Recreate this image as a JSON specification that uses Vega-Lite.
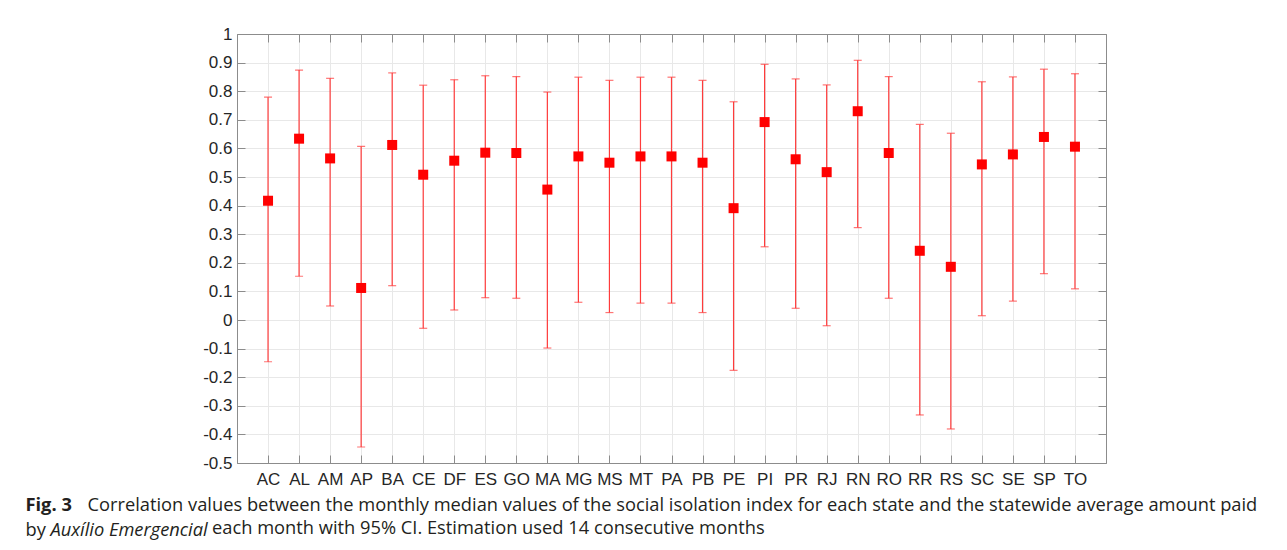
{
  "$schema": "https://vega.github.io/schema/vega-lite/v6.json",
  "autosize": {"type": "none"},
  "width": 869,
  "height": 429,
  "padding": {"left": 237, "top": 34, "right": 181, "bottom": 87},
  "background": "white",
  "data": {
    "values": [
      {"state": "AC", "r": 0.417, "lo": -0.146, "hi": 0.779},
      {"state": "AL", "r": 0.634, "lo": 0.153, "hi": 0.874},
      {"state": "AM", "r": 0.565, "lo": 0.049, "hi": 0.845},
      {"state": "AP", "r": 0.112, "lo": -0.444, "hi": 0.607},
      {"state": "BA", "r": 0.612, "lo": 0.12, "hi": 0.864},
      {"state": "CE", "r": 0.508, "lo": -0.029, "hi": 0.821},
      {"state": "DF", "r": 0.557, "lo": 0.035, "hi": 0.84},
      {"state": "ES", "r": 0.585, "lo": 0.078, "hi": 0.854},
      {"state": "GO", "r": 0.584, "lo": 0.076, "hi": 0.851},
      {"state": "MA", "r": 0.456, "lo": -0.098, "hi": 0.797},
      {"state": "MG", "r": 0.572, "lo": 0.062, "hi": 0.849},
      {"state": "MS", "r": 0.55, "lo": 0.026, "hi": 0.838},
      {"state": "MT", "r": 0.572, "lo": 0.059, "hi": 0.849},
      {"state": "PA", "r": 0.572, "lo": 0.059, "hi": 0.849},
      {"state": "PB", "r": 0.55, "lo": 0.026, "hi": 0.838},
      {"state": "PE", "r": 0.391, "lo": -0.176, "hi": 0.763},
      {"state": "PI", "r": 0.692, "lo": 0.256, "hi": 0.894},
      {"state": "PR", "r": 0.562, "lo": 0.041, "hi": 0.843},
      {"state": "RJ", "r": 0.517, "lo": -0.02, "hi": 0.822},
      {"state": "RN", "r": 0.73, "lo": 0.323, "hi": 0.908},
      {"state": "RO", "r": 0.584, "lo": 0.076, "hi": 0.851},
      {"state": "RR", "r": 0.242, "lo": -0.332, "hi": 0.684},
      {"state": "RS", "r": 0.186, "lo": -0.381, "hi": 0.653},
      {"state": "SC", "r": 0.544, "lo": 0.015, "hi": 0.833},
      {"state": "SE", "r": 0.579, "lo": 0.066, "hi": 0.85},
      {"state": "SP", "r": 0.64, "lo": 0.162, "hi": 0.877},
      {"state": "TO", "r": 0.606, "lo": 0.109, "hi": 0.861}
    ]
  },
  "title": {
    "text": "each month with 95% CI. Estimation used 14 consecutive months",
    "orient": "bottom",
    "anchor": "start",
    "frame": "group",
    "dx": -25,
    "dy": -4,
    "offset": 0,
    "baseline": "alphabetic",
    "font": "Open Sans",
    "fontSize": 18.3,
    "fontWeight": "normal",
    "color": "#231f20"
  },
  "layer": [
    {
      "mark": {"type": "rule", "color": "#ff3b3b", "strokeWidth": 1.2},
      "encoding": {
        "x": {
          "field": "state", "type": "nominal", "sort": null,
          "scale": {"type": "point", "padding": 1},
          "axis": {
            "orient": "bottom", "labelAngle": 0, "grid": true, "gridColor": "#e8e8e8",
            "tickSize": -8, "labelPadding": 16,
            "title": "Correlation values between the monthly median values of the social isolation index for each state and the statewide average amount paid",
            "titleX": -150, "titleY": 47, "titleAlign": "left", "titleBaseline": "alphabetic",
            "titleFontStyle": "normal"
          }
        },
        "y": {
          "field": "lo", "type": "quantitative",
          "scale": {"domain": [-0.5, 1], "nice": false, "zero": false},
          "axis": {
            "orient": "left", "grid": true, "gridColor": "#e8e8e8",
            "values": [-0.5, -0.4, -0.3, -0.2, -0.1, 0, 0.1, 0.2, 0.3, 0.4, 0.5, 0.6, 0.7, 0.8, 0.9, 1],
            "labelExpr": "toString(round(datum.value*10)/10)",
            "tickSize": -8, "labelPadding": 13,
            "title": "by", "titleAngle": 0, "titleX": -212, "titleY": 501,
            "titleAlign": "left", "titleBaseline": "alphabetic", "titleFontStyle": "normal"
          }
        },
        "y2": {"field": "hi"}
      }
    },
    {
      "mark": {"type": "tick", "color": "#ff3b3b", "size": 8, "thickness": 1.2},
      "encoding": {
        "x": {"field": "state", "type": "nominal", "sort": null, "axis": null},
        "y": {"field": "lo", "type": "quantitative", "axis": null}
      }
    },
    {
      "mark": {"type": "tick", "color": "#ff3b3b", "size": 8, "thickness": 1.2},
      "encoding": {
        "x": {"field": "state", "type": "nominal", "sort": null, "axis": null},
        "y": {"field": "hi", "type": "quantitative", "axis": null}
      }
    },
    {
      "mark": {"type": "square", "color": "#ff0000", "size": 100, "opacity": 1, "filled": true, "strokeWidth": 0},
      "encoding": {
        "x": {"field": "state", "type": "nominal", "sort": null, "axis": null},
        "y": {"field": "r", "type": "quantitative", "axis": null}
      }
    },
    {
      "mark": {"type": "point", "opacity": 0},
      "encoding": {
        "x": {
          "field": "state", "type": "nominal", "sort": null,
          "axis": {
            "orient": "top", "labels": false, "grid": false, "tickSize": -8,
            "title": "Fig. 3", "titleX": -212, "titleY": 476, "titleAlign": "left",
            "titleBaseline": "alphabetic", "titleFontWeight": "bold", "titleFontStyle": "normal"
          }
        },
        "y": {
          "field": "r", "type": "quantitative",
          "axis": {
            "orient": "right", "labels": false, "grid": false, "tickSize": -8,
            "values": [-0.5, -0.4, -0.3, -0.2, -0.1, 0, 0.1, 0.2, 0.3, 0.4, 0.5, 0.6, 0.7, 0.8, 0.9, 1],
            "title": "Auxílio Emergencial", "titleAngle": 0, "titleX": -1056, "titleY": 501,
            "titleAlign": "left", "titleBaseline": "alphabetic", "titleFontStyle": "italic"
          }
        }
      }
    }
  ],
  "resolve": {"axis": {"x": "independent", "y": "independent"}},
  "config": {
    "view": {"stroke": "#8c8c8c", "strokeWidth": 1},
    "axis": {
      "domainColor": "#8c8c8c",
      "tickColor": "#8c8c8c",
      "labelFont": "Liberation Sans",
      "labelFontSize": 17,
      "labelColor": "#262626",
      "titleFont": "Open Sans",
      "titleFontSize": 18.3,
      "titleFontWeight": "normal",
      "titleColor": "#231f20",
      "titlePadding": 0
    }
  }
}
